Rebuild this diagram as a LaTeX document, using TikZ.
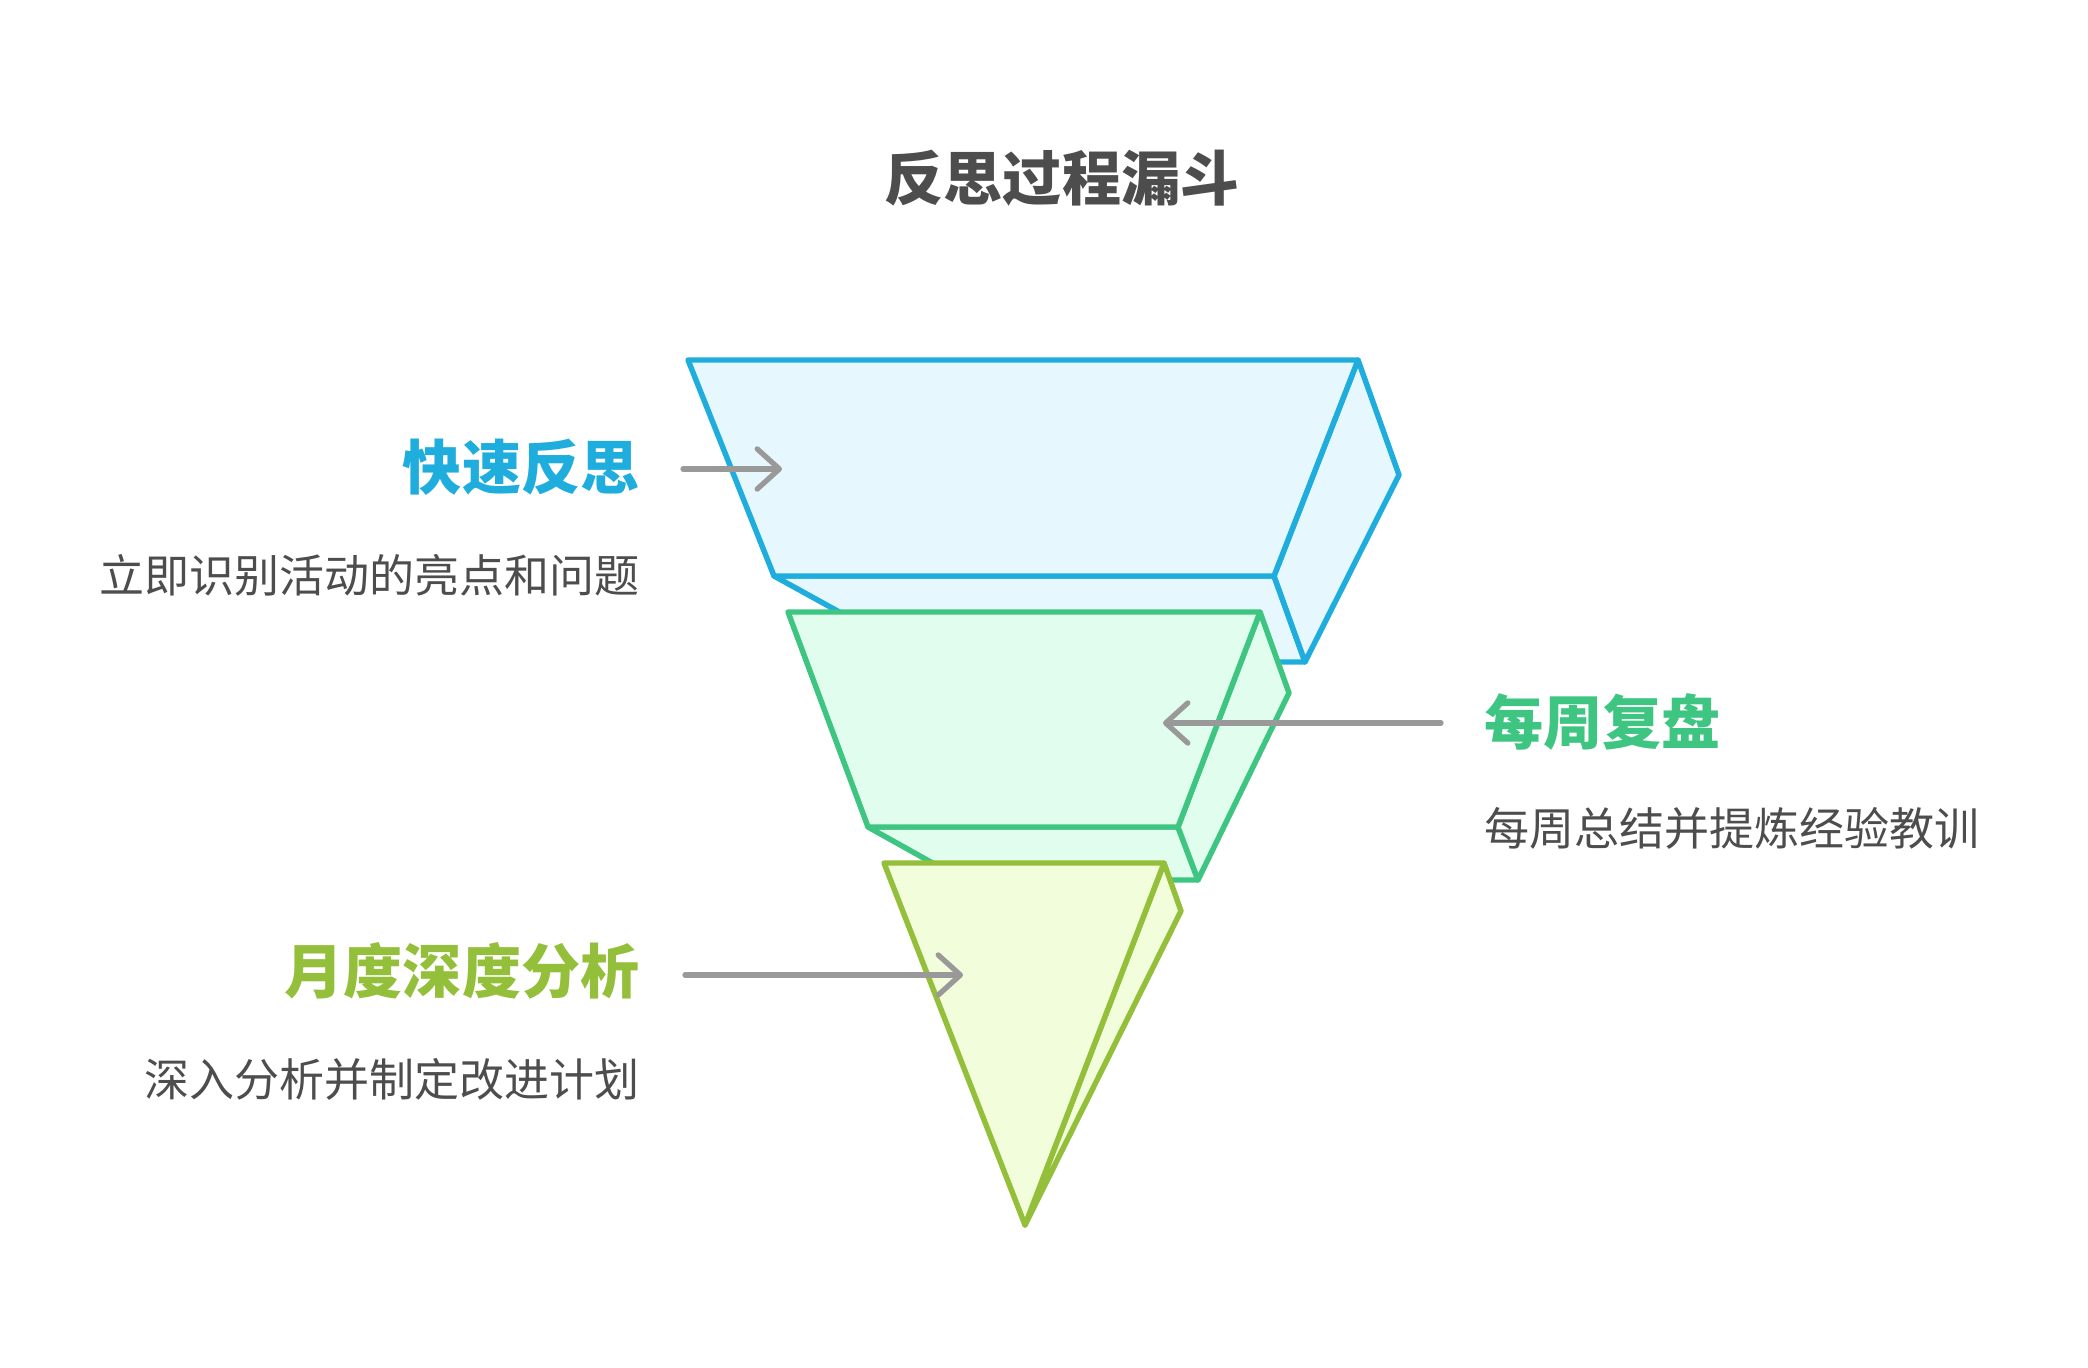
\documentclass[tikz,border=0pt]{standalone}
\usepackage{fontspec}
\newfontfamily\cjk{Noto Sans CJK SC}
\usetikzlibrary{calc,arrows.meta}
\definecolor{bluL}{RGB}{30,173,220}
\definecolor{bluF}{RGB}{230,248,254}
\definecolor{grnL}{RGB}{62,197,130}
\definecolor{grnF}{RGB}{224,253,238}
\definecolor{ylwL}{RGB}{148,191,58}
\definecolor{ylwF}{RGB}{242,254,219}
\definecolor{txtG}{RGB}{77,77,77}
\definecolor{arrG}{RGB}{153,153,153}
\tikzset{
  layer/.style={line width=1.55pt,line join=round},
  head/.style={inner sep=0pt,font=\cjk\bfseries\fontsize{16.8}{20}\selectfont},
  desc/.style={inner sep=0pt,text=txtG,font=\cjk\fontsize{12.8}{15}\selectfont},
  arr/.style={arrG,line width=1.5pt,line cap=round,-{Straight Barb[length=6.3pt,width=11.4pt,round]}}
}
\begin{document}
\begin{tikzpicture}[x=0.01cm,y=-0.01cm]
\useasboundingbox (0,0) rectangle (2088,1368);
\node[inner sep=0pt,text=txtG,font=\cjk\bfseries\fontsize{16.8}{20}\selectfont] (T) at (1062,178) {反思过程漏斗};
% quick layer
\coordinate (A) at (688,360);  \coordinate (B) at (1358,360);
\coordinate (C) at (1274,576); \coordinate (D) at (774,576);
\coordinate (B') at ($(B)+(41,115)$);
\coordinate (C') at ($(C)+(31,86)$);
\coordinate (D') at ($(D)+(156,86)$);
\draw[layer,draw=bluL,fill=bluF] (D)--(C)--(C')--(D')--cycle;
\draw[layer,draw=bluL,fill=bluF] (B)--(B')--(C')--(C)--cycle;
\draw[layer,draw=bluL,fill=bluF] (A)--(B)--(C)--(D)--cycle;
% weekly layer
\coordinate (E) at (788,612);  \coordinate (F) at (1260,612);
\coordinate (G) at (1178,827); \coordinate (H) at (868,827);
\coordinate (F') at ($(F)+(29,81)$);
\coordinate (G') at ($(G)+(20,53)$);
\coordinate (H') at ($(H)+(95,53)$);
\draw[layer,draw=grnL,fill=grnF] (H)--(G)--(G')--(H')--cycle;
\draw[layer,draw=grnL,fill=grnF] (F)--(F')--(G')--(G)--cycle;
\draw[layer,draw=grnL,fill=grnF] (E)--(F)--(G)--(H)--cycle;
% monthly layer
\coordinate (I) at (884,863);  \coordinate (J) at (1164,863);
\coordinate (K) at (1025,1225);
\coordinate (J') at ($(J)+(17,48)$);
\draw[layer,draw=ylwL,fill=ylwF] (J)--(J')--(K)--cycle;
\draw[layer,draw=ylwL,fill=ylwF] (I)--(J)--(K)--cycle;
% labels
\node[head,text=bluL,anchor=east] (h1) at (640,467) {快速反思};
\node[desc,anchor=east] (d1) at (640,575) {立即识别活动的亮点和问题};
\node[head,text=grnL,anchor=west] (h2) at (1484,722) {每周复盘};
\node[desc,anchor=west] (d2) at (1484,828) {每周总结并提炼经验教训};
\node[head,text=ylwL,anchor=east] (h3) at (640,971) {月度深度分析};
\node[desc,anchor=east] (d3) at (640,1079) {深入分析并制定改进计划};
% pointers
\coordinate (t1) at (683,469);  \coordinate (p1) at (782,469);
\coordinate (t2) at (1441,723); \coordinate (p2) at (1163,723);
\coordinate (t3) at (685,975);  \coordinate (p3) at (963,975);
\foreach \a/\b in {t1/p1,t2/p2,t3/p3}{\draw[arr] (\a)--(\b);}
\end{tikzpicture}
\end{document}
